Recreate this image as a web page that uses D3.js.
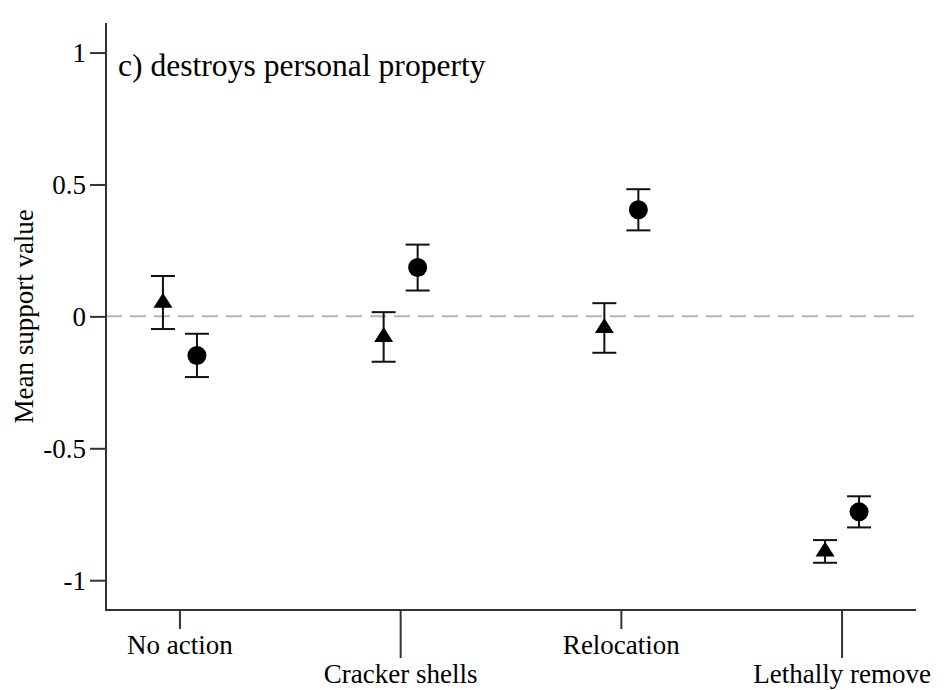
<!DOCTYPE html>
<html>
<head>
<meta charset="utf-8">
<script src="https://cdn.jsdelivr.net/npm/d3@7"></script>
<style>
  body { margin: 0; background: #fff; }
  svg text { font-family: "Liberation Serif", "Times New Roman", serif; fill: #000; }
</style>
</head>
<body>
<div id="run"></div>
<script>
var width = 945,
    height = 690;

// data
var categories = ["No action", "Cracker shells", "Relocation", "Lethally remove"];
var triMean = [0.052, -0.078, -0.044, -0.891];
var triLow  = [-0.048, -0.172, -0.138, -0.934];
var triHigh = [0.153, 0.016, 0.050, -0.848];
var dotMean = [-0.148, 0.185, 0.404, -0.741];
var dotLow  = [-0.230, 0.098, 0.326, -0.800];
var dotHigh = [-0.066, 0.272, 0.482, -0.682];
var yTicks = [-1, -0.5, 0, 0.5, 1];
var title = "c) destroys personal property";

var x0 = 106, x1 = 916, yTop = 23, yBot = 610;

var svg = d3.select("#run").append("svg")
    .attr("width", width)
    .attr("height", height);

var x = d3.scalePoint()
    .domain(categories)
    .range([x0, x1])
    .padding(0.335);

var y = d3.scaleLinear()
    .domain([-1.113, 1.112])
    .range([yBot, yTop]);

// dashed zero line
svg.append("line")
    .attr("x1", x0).attr("x2", x1 + 1)
    .attr("y1", y(0)).attr("y2", y(0))
    .style("stroke", "#b5b5b5")
    .style("stroke-width", 2)
    .style("stroke-dasharray", "16,8");

// y axis
var yAxis = svg.append("g")
    .attr("transform", "translate(" + x0 + ",0)")
    .call(d3.axisLeft(y).tickValues(yTicks).tickSize(16).tickPadding(4)
        .tickFormat(function(d) { return d === 0 ? "0" : String(d); }));
yAxis.select(".domain").remove();
yAxis.append("line")
    .attr("y1", yTop).attr("y2", yBot + 1)
    .style("stroke", "#333").style("stroke-width", 2);
yAxis.selectAll(".tick line").style("stroke", "#333").style("stroke-width", 2);
yAxis.selectAll(".tick text")
    .attr("font-size", 27)
    .attr("dy", "0.34em")
    .style("fill", "#000");

// x axis, alternating tick lengths
var xAxis = svg.append("g")
    .attr("transform", "translate(0," + yBot + ")");
xAxis.append("line")
    .attr("x1", x0).attr("x2", x1)
    .style("stroke", "#333").style("stroke-width", 2);
var xt = xAxis.selectAll(".xtick")
    .data(categories)
  .enter().append("g")
    .attr("class", "xtick")
    .attr("transform", function(d) { return "translate(" + x(d) + ",0)"; });
xt.append("line")
    .attr("y1", 0)
    .attr("y2", function(d, i) { return i % 2 ? 48 : 19; })
    .style("stroke", "#333").style("stroke-width", 2);
xt.append("text")
    .attr("text-anchor", "middle")
    .attr("font-size", 27)
    .attr("y", function(d, i) { return i % 2 ? 73 : 44; })
    .text(function(d) { return d; });

// y label
svg.append("text")
    .attr("transform", "translate(33," + y(0) + ") rotate(-90)")
    .attr("text-anchor", "middle")
    .attr("font-size", 27)
    .text("Mean support value");

// panel title
svg.append("text")
    .attr("x", 118)
    .attr("y", 76)
    .attr("font-size", 31.6)
    .text(title);

// error bars
function errorBars(means, lows, highs, offset) {
  var g = svg.append("g");
  var cap = 12;
  categories.forEach(function(c, i) {
    var cx = x(c) + offset;
    g.append("line")
        .attr("x1", cx).attr("x2", cx)
        .attr("y1", y(highs[i])).attr("y2", y(lows[i]));
    g.append("line")
        .attr("x1", cx - cap).attr("x2", cx + cap)
        .attr("y1", y(highs[i])).attr("y2", y(highs[i]));
    g.append("line")
        .attr("x1", cx - cap).attr("x2", cx + cap)
        .attr("y1", y(lows[i])).attr("y2", y(lows[i]));
  });
  g.selectAll("line").style("stroke", "#111").style("stroke-width", 2);
}

errorBars(triMean, triLow, triHigh, -17);
errorBars(dotMean, dotLow, dotHigh, 17);

// triangles (centroid on the mean)
svg.selectAll(".tri")
    .data(triMean)
  .enter().append("path")
    .attr("class", "tri")
    .attr("d", function(d, i) {
      var cx = x(categories[i]) - 17, cy = y(d);
      var w = 9.5, h = 15;
      return "M" + cx + "," + (cy - h * 2 / 3) +
             "L" + (cx + w) + "," + (cy + h / 3) +
             "L" + (cx - w) + "," + (cy + h / 3) + "Z";
    })
    .style("fill", "#000");

// circles
svg.selectAll(".dot")
    .data(dotMean)
  .enter().append("circle")
    .attr("class", "dot")
    .attr("cx", function(d, i) { return x(categories[i]) + 17; })
    .attr("cy", function(d) { return y(d); })
    .attr("r", 9.5)
    .style("fill", "#000");
</script>
</body>
</html>
